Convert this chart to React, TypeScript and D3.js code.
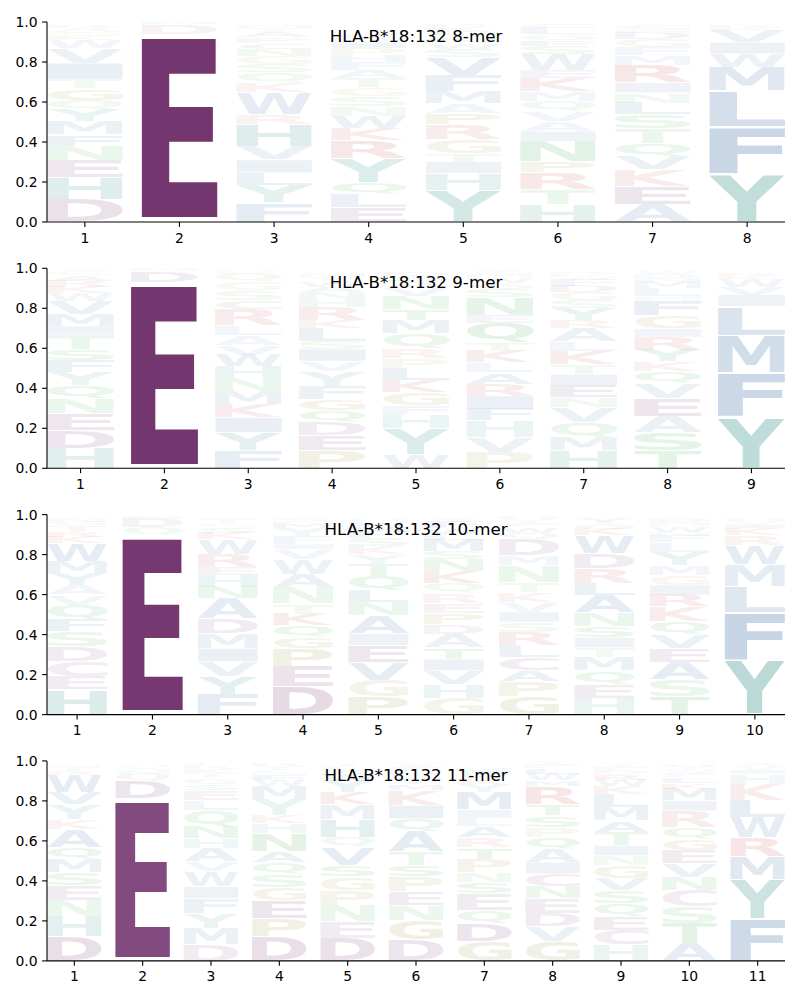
import React, { useMemo } from "react";
import * as d3 from "d3";

// ---------- DATA (each column: letters bottom -> top, value in %) ----------
const titles = [
  "HLA-B*18:132 8-mer",
  "HLA-B*18:132 9-mer",
  "HLA-B*18:132 10-mer",
  "HLA-B*18:132 11-mer",
];

const logo8 = [
  "D11.3 H11 E8.5 N7.3 F5.5 M6.6 Y5.8 Q5 G5.8 T4.6 I8 V7.5 W4 K2 S2 A2 R1.5",
  "E94 D5 N1",
  "F9.6 Y9 L6 I6.5 V6.6 H11 R5 W11 K5 Q5 S4 G4 N3.5 C3 P3 A3 T2 M1.5",
  "E7.5 L6.6 Q5.8 Y12 R9 K6 W6 N5 S5 G4.5 T4.5 A4 F4 H3.5 P3.5 I3 D2 C2",
  "Y16 H8.3 I5.8 T4 G7 R7.5 P5.8 A5 M6 F8 V9 S4 W3 N3 Q3 K2 D1",
  "H8.8 T7.5 R8.3 P5.8 N10 I5 A5 V5 Q5 M5 K6.6 E4 W8 S4 F3 G3 L3 C2",
  "A8.8 E9 K8.3 V6.6 Q6.6 T7.5 S7 L5.8 N5 I5 R9 M5 F4 G4 D3 H2 C2",
  "Y24 F23.5 L18 M12 W6.6 I5.8 V5.8 K1.5 R1.5",
];

const logo9 = [
  "H10 D9 E8.3 N7.5 Q6.6 Y6.6 F5.8 S5.8 T6.6 I5 M5.8 V6.6 W4 K3 R3 A3 G2",
  "E93 D5.5 N1",
  "F9 Y8.8 I7.5 K6.6 M6.6 N6.6 H5.8 W5.8 V5 A5 L5 R8 C4.5 S5 G4 Q4 P1.5",
  "P8.8 E7.5 D6.6 Q5.8 G5.8 F6.6 Y7.5 V5 I6 S4 L6.6 K4 R6.6 H4 N3 A3 W3 T2 M2",
  "W7 Y13 H6.6 F5 G6.6 K5.8 L5.8 P5 R5 Q7.5 M6.6 T5.8 N6.6 V4 A3 S3 D2",
  "P8 V7.5 H8.3 F5.8 I6.6 R5.8 A5.8 L5 K5.8 T4 Q10 E4 N9 S4 G3 W3 M2 Y1",
  "H8.8 M6.6 Q7.5 V7.5 N5 E5.8 I5.8 T5 K6.6 L5 A6.6 R4 Y5.8 S4 G4 D3 F3 W2 P2",
  "T9 S9 A8 E9 V7.5 Q5.8 K5 Y5.8 R6.6 I4 G6.6 F7.5 H2.5 L4 M3 N2 D2 W1.5",
  "Y25.5 F22 M19 L14.5 I5.8 V4 W4 K1.5 R1.5",
];

const logo10 = [
  "H12.5 E6.6 C7.5 D7.5 S7.5 F5.8 Q7.5 V5 A5 Y5.8 M5.8 W9 K3 R3 T3 G2 N2",
  "E89.5 Q4 D4.5 N1",
  "F10 Y9 V7.5 I6.6 M7.5 D7.5 A10 N5.8 H5.8 E4 R6.6 W7.5 K3 S3 G2 T2 Q1",
  "D14 E10 P9 G5.8 Q5.8 K5.8 T5 N8.3 A6.6 W7.5 V5 I2.5 F4 Y4 M3 S2",
  "P9 G8.3 V9 E8.3 I5.8 A9 N6.6 L5.8 Q7.5 T6 Y5 K4 S4 F3 M3 W2 H1.5",
  "G8.3 H7 V6.6 I5.8 T5.8 A6.6 D5 P5.8 E5 R5 Q5 K5.8 N5.8 S4 M5.8 L3 W3 F3 Y2",
  "G9 P7.5 A5.8 C6.6 L5.8 R6.6 S5 I5 V5 K5 T5 N8.3 M5 D8.3 Q3 W3 F2 Y2 H1",
  "H8.3 E7 Q6.6 M6.6 T5 I5 S5.8 N6.6 A9 L5.8 R7.5 D7.5 W9 K3 G3 Y3",
  "T9 S8.3 A9 E6.6 V7 Q6.6 K7.5 R5.8 I5 G5 M5 Y6.6 L5 F3 N2 W3 H2 D2",
  "Y27 F24 L13 M11 W9.5 R5 K3.5 I2 V2 H1.5",
];

const logo11 = [
  "D12 H10 N8.3 E7.5 S6.6 M6.6 Q5.8 A9 K5 Y7.5 V5.8 W9 R2 T2 G1",
  "E81 D8.5 Q4 N2 S1.5 G1.5",
  "D8 M8.3 Y7.5 F7.5 I5.8 W7.5 V5 A6.6 H5 N5.8 Q8.3 L5 E5 S3 G3 T2.5 K2 R1.5 C1",
  "D12 P9 E9 G6.6 S6.6 Q5.8 A5.8 N9 H5 K4 Y8 M6.6 W3 F3 L2 T2 R1",
  "D11.3 E8.3 N8.3 P7.5 G6.6 S5.8 V9 Q5 H9 M7.5 K5.8 Y6 W3 A2 L2 T1.5",
  "D10.5 G10 N7.5 E6.6 P7.5 S5.8 T6.6 A10 Q6.6 I6.6 K7.5 M3 Y3 W2 L2 F2 V1",
  "G9.6 D9 Q6.6 E8.3 S5.8 N5 P6.6 T5.8 R5 A5.8 L4 I4 M9 Y4 K3 W3 H2",
  "G9.6 V7.5 D6.6 E7.5 N5.8 C6.6 I5.8 A6.6 Q5.8 P5 S5.8 T5.8 R9 M3 W3 L3 F2 Y1",
  "H8 C7.5 E6.6 Q6.6 S6.6 V5.8 G6.6 N5 I5 T6.6 A5.8 M6.6 L6.6 K4 W3 R3 D2 F2 Y1",
  "A8.8 T10 S8.3 C8.3 N6.6 V6.6 E6.6 G5.8 Q5.8 R8.3 I5 M5.8 K3 L3 F2 W2 Y1 H1",
  "F21 Y19.5 M11.5 R9.5 W10 L9 K8 H5 I2 V2 A1",
];

const logos = [logo8, logo9, logo10, logo11];
const yTicks = [0, 0.2, 0.4, 0.6, 0.8, 1.0];

// residue colour groups
const acidic = "DEC";
const aromaticPolar = "YH";
const hydrophobic = "FLMWIVA";
const basic = "KR";
const smallSpecial = "GP";
const polar = "STNQ";

function baseColor(aa: string): string {
  if (acidic.includes(aa)) return aa === "C" ? "rgb(130,58,125)" : "rgb(116,54,111)";
  if (aromaticPolar.includes(aa)) return "rgb(40,140,130)";
  if (hydrophobic.includes(aa)) return "rgb(62,110,164)";
  if (basic.includes(aa)) return "rgb(200,60,60)";
  if (smallSpecial.includes(aa)) return "rgb(150,140,50)";
  if (polar.includes(aa)) return "rgb(50,160,70)";
  return "rgb(80,80,80)";
}

// ---------- LAYOUT ----------
const W = 800;
const H = 1000;
const axLeft = 47;
const axRight = 785;
const panelTops = [22, 268.3, 514.6, 760.9];
const panelH = 200;
const FONT = "'DejaVu Sans', sans-serif";
const VPAD = 0.05;

type Metric = { left: number; right: number; top: number; bottom: number };

function parseCol(s: string) {
  return s.split(" ").map((t) => ({ aa: t[0], v: parseFloat(t.slice(1)) / 100 }));
}

export default function App() {
  const metrics = useMemo(() => {
    const m: Record<string, Metric> = {};
    const canvas = document.createElement("canvas");
    const ctx = canvas.getContext("2d")!;
    ctx.font = "bold 100px 'DejaVu Sans'";
    ctx.textAlign = "left";
    ctx.textBaseline = "alphabetic";
    for (const aa of "ACDEFGHIKLMNPQRSTVWY") {
      const tm = ctx.measureText(aa);
      m[aa] = {
        left: -tm.actualBoundingBoxLeft,
        right: tm.actualBoundingBoxRight,
        top: -tm.actualBoundingBoxAscent,
        bottom: tm.actualBoundingBoxDescent,
      };
    }
    return m;
  }, []);

  return (
    <svg
      width={W}
      height={H}
      style={{ position: "absolute", left: 0, top: 0, background: "#fff" }}
      fontFamily={FONT}
    >
      {logos.map((cols, pi) => {
        const n = cols.length;
        const top = panelTops[pi];
        const x = d3.scaleLinear().domain([0.6, n + 0.4]).range([axLeft, axRight]);
        const y = d3.scaleLinear().domain([0, 1]).range([top + panelH, top]);
        const bottom = top + panelH;
        return (
          <g key={pi}>
            {cols.map((colStr, ci) => {
              const pos = ci + 1;
              const letters = parseCol(colStr);
              let acc = 0;
              return letters.map((L, li) => {
                const y0 = acc;
                const y1 = acc + L.v;
                acc = y1;
                const pad = (L.v * VPAD) / 2;
                const X0 = x(pos - 0.4);
                const X1 = x(pos + 0.4);
                const Yt = y(y1 - pad);
                const Yb = y(y0 + pad);
                const mt = metrics[L.aa];
                if (!mt) return null;
                const sx = (X1 - X0) / (mt.right - mt.left);
                const sy = (Yb - Yt) / (mt.bottom - mt.top);
                const alpha = Math.min(1, 0.03 + 1.07 * L.v);
                return (
                  <text
                    key={`${ci}-${li}`}
                    x={0}
                    y={0}
                    fontSize={100}
                    fontWeight="bold"
                    fontFamily={FONT}
                    fill={baseColor(L.aa)}
                    fillOpacity={alpha}
                    transform={`translate(${X0},${Yt}) scale(${sx},${sy}) translate(${-mt.left},${-mt.top})`}
                  >
                    {L.aa}
                  </text>
                );
              });
            })}
            {/* spines */}
            <line x1={axLeft} x2={axLeft} y1={top} y2={bottom} stroke="#000" strokeWidth={1.1} />
            <line x1={axLeft} x2={axRight} y1={bottom} y2={bottom} stroke="#000" strokeWidth={1.1} />
            {/* y ticks */}
            {yTicks.map((t) => (
              <g key={`y${t}`}>
                <line x1={axLeft - 4.9} x2={axLeft} y1={y(t)} y2={y(t)} stroke="#000" strokeWidth={1.1} />
                <text x={axLeft - 9.5} y={y(t) + 5} fontSize={13.9} textAnchor="end" fill="#000">
                  {d3.format(".1f")(t)}
                </text>
              </g>
            ))}
            {/* x ticks */}
            {d3.range(1, n + 1).map((p) => (
              <g key={`x${p}`}>
                <line x1={x(p)} x2={x(p)} y1={bottom} y2={bottom + 4.9} stroke="#000" strokeWidth={1.1} />
                <text x={x(p)} y={bottom + 20.5} fontSize={13.9} textAnchor="middle" fill="#000">
                  {p}
                </text>
              </g>
            ))}
            <text x={(axLeft + axRight) / 2} y={top + 20} fontSize={16.7} textAnchor="middle" fill="#000">
              {titles[pi]}
            </text>
          </g>
        );
      })}
    </svg>
  );
}
